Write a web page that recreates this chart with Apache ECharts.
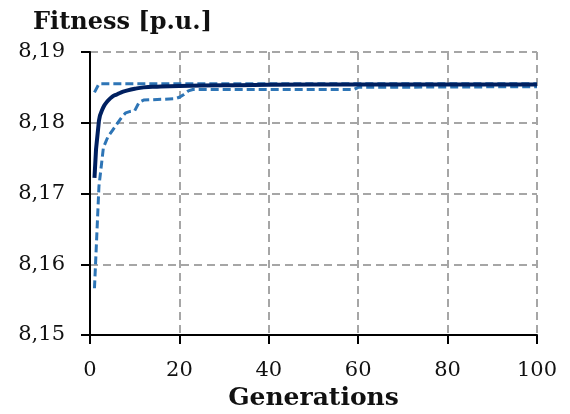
<!DOCTYPE html>
<html>
<head>
<meta charset="utf-8">
<script src="https://cdn.jsdelivr.net/npm/echarts@6/dist/echarts.min.js"></script>
<style>
    html, body { margin: 0; padding: 0; background: #fff; }
    #chart { width: 570px; height: 414px; }
</style>
</head>
<body>
<div id="chart"></div>
<script>
(function () {

    'use strict';

    // generation -> fitness [p.u.]
    var meanGen = [1, 2, 3, 4, 5, 6, 7, 8, 10, 12, 15, 20, 30, 50, 100];
    var meanFit = [8.1722, 8.1803, 8.1822, 8.1831, 8.1837, 8.1840, 8.1843, 8.1845, 8.1848, 8.1850, 8.1851, 8.1852, 8.1853, 8.1854, 8.1854];

    var upperGen = [1, 2, 100];
    var upperFit = [8.1843, 8.1855, 8.1855];

    var lowerGen = [1, 2, 3, 4, 5, 6, 7, 8, 9, 10, 11, 12, 19, 20, 21, 22, 23, 59, 60, 100];
    var lowerFit = [8.1566, 8.1710, 8.1765, 8.1780, 8.1789, 8.1798, 8.1807, 8.1814, 8.1816, 8.1817, 8.1829, 8.1832, 8.1834, 8.1836, 8.1840, 8.1845, 8.1847, 8.1847, 8.1850, 8.1851];

    var font = 'DejaVu Serif';

    function pairs(xs, ys) {
        var out = [];
        for (var i = 0; i < xs.length; i++) {
            out.push([xs[i], ys[i]]);
        }
        return out;
    }

    var chart = echarts.init(document.getElementById('chart'));

    var gridLine = {
        show: true,
        lineStyle: {
            color: '#a6a6a6',
            width: 2,
            type: [8, 5]
        }
    };

    var option = {
        animation: false,
        title: {
            text: 'Fitness [p.u.]',
            left: 28,
            top: 6,
            textStyle: {
                fontFamily: font,
                fontWeight: 'bold',
                fontSize: 24,
                color: '#111'
            }
        },
        grid: {
            left: 90,
            right: 33,
            top: 52,
            bottom: 79,
            outerBoundsMode: 'none'
        },
        xAxis: {
            type: 'value',
            min: 0,
            max: 100,
            interval: 20,
            name: 'Generations',
            nameLocation: 'middle',
            nameGap: 49,
            nameTextStyle: {
                fontFamily: font,
                fontWeight: 'bold',
                fontSize: 25,
                color: '#111'
            },
            axisLine: { lineStyle: { color: '#000', width: 2 } },
            axisTick: { show: true, length: 9, lineStyle: { color: '#000', width: 2 } },
            axisLabel: {
                margin: 25,
                fontFamily: font,
                fontSize: 21,
                color: '#111'
            },
            splitLine: gridLine
        },
        yAxis: {
            type: 'value',
            min: 8.15,
            max: 8.19,
            interval: 0.01,
            axisLine: { show: true, lineStyle: { color: '#000', width: 2 } },
            axisTick: { show: true, length: 9, lineStyle: { color: '#000', width: 2 } },
            axisLabel: {
                margin: 25,
                fontFamily: font,
                fontSize: 21,
                color: '#111',
                formatter: function (v) {
                    return v.toFixed(2).replace('.', ',');
                }
            },
            splitLine: gridLine
        },
        series: [{
            type: 'line',
            data: pairs(upperGen, upperFit),
            symbol: 'none',
            lineStyle: { color: '#2e75b6', width: 3, type: [8, 4] },
            z: 2
        }, {
            type: 'line',
            data: pairs(lowerGen, lowerFit),
            symbol: 'none',
            lineStyle: { color: '#2e75b6', width: 3, type: [8, 4] },
            z: 2
        }, {
            type: 'line',
            data: pairs(meanGen, meanFit),
            symbol: 'none',
            smooth: 0.5,
            lineStyle: { color: '#002060', width: 4 },
            z: 3
        }]
    };

    chart.setOption(option);
})();
</script>
</body>
</html>
